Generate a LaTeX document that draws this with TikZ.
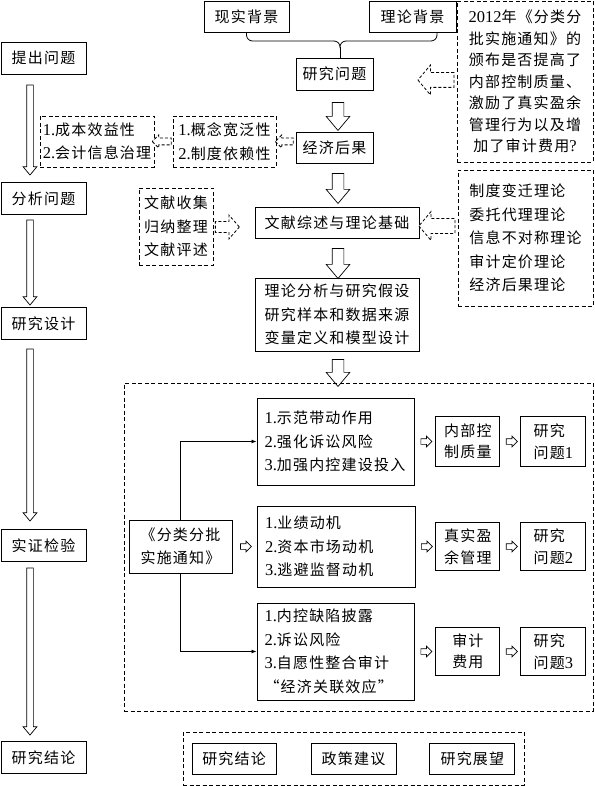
\documentclass[tikz,border=0pt]{standalone}
\usepackage{fontspec}
\setmainfont{Liberation Serif}[Scale=1.1]
\newfontfamily\zh{Noto Sans CJK SC}[LetterSpace=8]
\usetikzlibrary{arrows.meta,positioning,calc,shapes.arrows}
\newcommand{\en}[1]{{\rmfamily #1}}
\tikzset{
  font=\zh\fontsize{15}{23.5}\selectfont,
  box/.style     ={draw, line width=0.9pt, align=center, inner sep=0pt},
  dbox/.style    ={box, line width=0.8pt, dash pattern=on 4pt off 2.5pt},
  lbox/.style    ={box, minimum width=85pt, minimum height=32pt},
  rowbox/.style  ={box, align=left, text width=142pt, minimum width=157pt},
  tight/.style   ={font=\zh\fontsize{15}{21.5}\selectfont},
  hollow/.style  ={single arrow, draw, line width=0.7pt, inner xsep=0pt, fill=white},
  bigarr/.style  ={hollow, inner ysep=5.5pt, minimum width=23pt, single arrow head extend=6pt, single arrow tip angle=80, rotate=-90},
  sidearr/.style ={hollow, inner ysep=3pt, minimum width=13pt, single arrow head extend=3.5pt, single arrow tip angle=80, rotate=-90},
  smallarr/.style={hollow, inner ysep=2.5pt, minimum height=11pt, minimum width=10pt, single arrow head extend=2.5pt, single arrow tip angle=90},
  darr/.style    ={hollow, line width=0.8pt, dash pattern=on 3pt off 2pt},
  conn/.style    ={line width=0.8pt, -{Latex[length=5pt,width=4pt]}},
}
\begin{document}
\begin{tikzpicture}[x=1pt, y=-1pt]
  \useasboundingbox (0,0) rectangle (594,786);

  % stages on the left
  \node[lbox]                  (tc) at (43.5,58) {提出问题};
  \node[lbox, below=108pt of tc] (fx) {分析问题};
  \node[lbox, below=92pt of fx]  (sj) {研究设计};
  \node[lbox, below=189pt of sj] (sz) {实证检验};
  \node[lbox, below=179pt of sz] (jl) {研究结论};
  \node[sidearr, minimum height=90pt]  (la1) at (30,128)   {};
  \node[sidearr, minimum height=85pt]  (la2) at (30,260.5) {};
  \node[sidearr, minimum height=172pt] (la3) at (30,433)   {};
  \node[sidearr, minimum height=167pt] (la4) at (30,649.5) {};

  % background and research question
  \node[box, minimum width=85pt, minimum height=31pt] (xs) at (246.5,16.5) {现实背景};
  \node[box, minimum width=87pt, minimum height=31pt] (ll) at (412.5,16.5) {理论背景};
  \node[box, minimum width=77pt, minimum height=32pt] (wt) at (334.5,74) {研究问题};
  \coordinate (brc) at (340,41);
  \draw[line width=0.8pt, rounded corners=6pt] (xs.south) |- ($(brc)+(-6,0)$);
  \draw[line width=0.8pt, rounded corners=6pt] ([xshift=24.5pt]ll.south) |- ($(brc)+(6,0)$);
  \draw[line width=0.8pt] ($(brc)+(-6,0)$) to[out=0,in=90] ($(brc)+(0,6)$)
        to[out=90,in=180] ($(brc)+(6,0)$);
  \draw[line width=0.8pt] ($(brc)+(0,6)$) -- (brc |- wt.north);

  \node[dbox, tight, minimum width=136pt, minimum height=161pt] (q) at (525,81.5)
       {\en{2012}年《分类分\\批实施通知》的\\颁布是否提高了\\内部控制质量、\\激励了真实盈余\\管理行为以及增\\加了审计费用\en{?}};
  \node[darr, rotate=180, inner ysep=7pt, minimum height=36pt, minimum width=29pt,
        single arrow head extend=7.5pt, single arrow tip angle=100] (qa) at (439,80) {};

  % economic consequences
  \node[bigarr, minimum height=28pt] (ar1) at (338,113) {};
  \node[box, minimum width=77pt, minimum height=31pt] (jg) at (334.5,147.5) {经济后果};
  \node[dbox, align=left, minimum width=103pt, minimum height=51pt] (d2) at (224.5,141.5)
       {\en{1.}概念宽泛性\\\en{2.}制度依赖性};
  \node[dbox, align=left, minimum width=114pt, minimum height=51pt] (d1) at (97,141.5)
       {\en{1.}成本效益性\\\en{2.}会计信息治理};
  \node[darr, rotate=180, inner ysep=3pt, minimum height=18pt, minimum width=12pt,
        single arrow head extend=3pt, single arrow tip angle=90] (sa2) at (286,141.5) {};
  \node[darr, rotate=180, inner ysep=3pt, minimum height=19pt, minimum width=12pt,
        single arrow head extend=3pt, single arrow tip angle=90] (sa1) at (163.5,141.5) {};

  % literature and theory
  \node[bigarr, minimum height=30pt] (ar2) at (338,185) {};
  \node[box, minimum width=164pt, minimum height=31pt] (wx) at (337,222.5) {文献综述与理论基础};
  \node[dbox, minimum width=74pt, minimum height=77pt] (d3) at (176,226.5) {文献收集\\归纳整理\\文献评述};
  \node[darr, inner ysep=5pt, minimum height=24pt, minimum width=23pt,
        single arrow head extend=6.5pt, single arrow tip angle=98] (lta) at (225,227) {};
  \node[dbox, align=left, minimum width=135pt, minimum height=136pt] (th) at (525.5,238)
       {制度变迁理论\\委托代理理论\\信息不对称理论\\审计定价理论\\经济后果理论};
  \node[darr, rotate=180, inner ysep=7pt, minimum height=36pt, minimum width=28pt,
        single arrow head extend=7pt, single arrow tip angle=100] (ta) at (440,226) {};

  \node[bigarr, minimum height=30pt] (ar3) at (338,260) {};
  \node[box, minimum width=164pt, minimum height=73pt] (dsn) at (337,314.5)
       {理论分析与研究假设\\研究样本和数据来源\\变量定义和模型设计};
  \node[bigarr, minimum height=27pt] (ar4) at (338,369.5) {};

  % empirical part
  \node[dbox, minimum width=469pt, minimum height=328pt] (big) at (358.5,547) {};
  \node[box, minimum width=103pt, minimum height=53pt] (src) at (180.5,546.5) {《分类分批\\实施通知》};
  \node[rowbox, minimum height=87pt] (r1) at (335.5,441.5)
       {\en{1.}示范带动作用\\\en{2.}强化诉讼风险\\\en{3.}加强内控建设投入};
  \node[rowbox, minimum width=158pt, minimum height=81pt] (r2) at (336,546.5)
       {\en{1.}业绩动机\\\en{2.}资本市场动机\\\en{3.}逃避监督动机};
  \node[rowbox, minimum height=97pt] (r3) at (335.5,651.5)
       {\en{1.}内控缺陷披露\\\en{2.}诉讼风险\\\en{3.}自愿性整合审计\\“经济关联效应”};
  \node[box, tight, minimum width=64pt, minimum height=50pt, right=21pt of r1] (m1) {内部控\\制质量};
  \node[box, tight, minimum width=64pt, minimum height=48pt, right=20pt of r2] (m2) {真实盈\\余管理};
  \node[box, tight, minimum width=64pt, minimum height=48pt, right=21pt of r3] (m3) {审计\\费用};
  \node[box, tight, align=left, minimum width=65pt, minimum height=50pt, right=20pt of m1] (q1) {研究\\问题\en{1}};
  \node[box, tight, align=left, minimum width=65pt, minimum height=48pt, right=20pt of m2] (q2) {研究\\问题\en{2}};
  \node[box, tight, align=left, minimum width=65pt, minimum height=48pt, right=20pt of m3] (q3) {研究\\问题\en{3}};
  \draw[conn] (src.north) |- (r1.west);
  \draw[conn] (src.south) |- (r3.west);
  \node[smallarr] (s0) at ($(src.east)!.5!(r2.west)$) {};
  \foreach \a/\b/\c in {r1/m1/q1, r2/m2/q2, r3/m3/q3} {
    \node[smallarr] (s\a) at ($(\a.east)!.5!(\b.west)$) {};
    \node[smallarr] (s\b) at ($(\b.east)!.5!(\c.west)$) {};
  }

  % conclusions
  \node[dbox, minimum width=341pt, minimum height=53pt] (bot) at (353.5,758.5) {};
  \node[box, minimum width=85pt, minimum height=31pt] (b2) at (bot.center) {政策建议};
  \node[box, minimum width=84pt, minimum height=31pt, left=34pt of b2]  (b1) {研究结论};
  \node[box, minimum width=85pt, minimum height=31pt, right=33pt of b2] (b3) {研究展望};
\end{tikzpicture}
\end{document}
